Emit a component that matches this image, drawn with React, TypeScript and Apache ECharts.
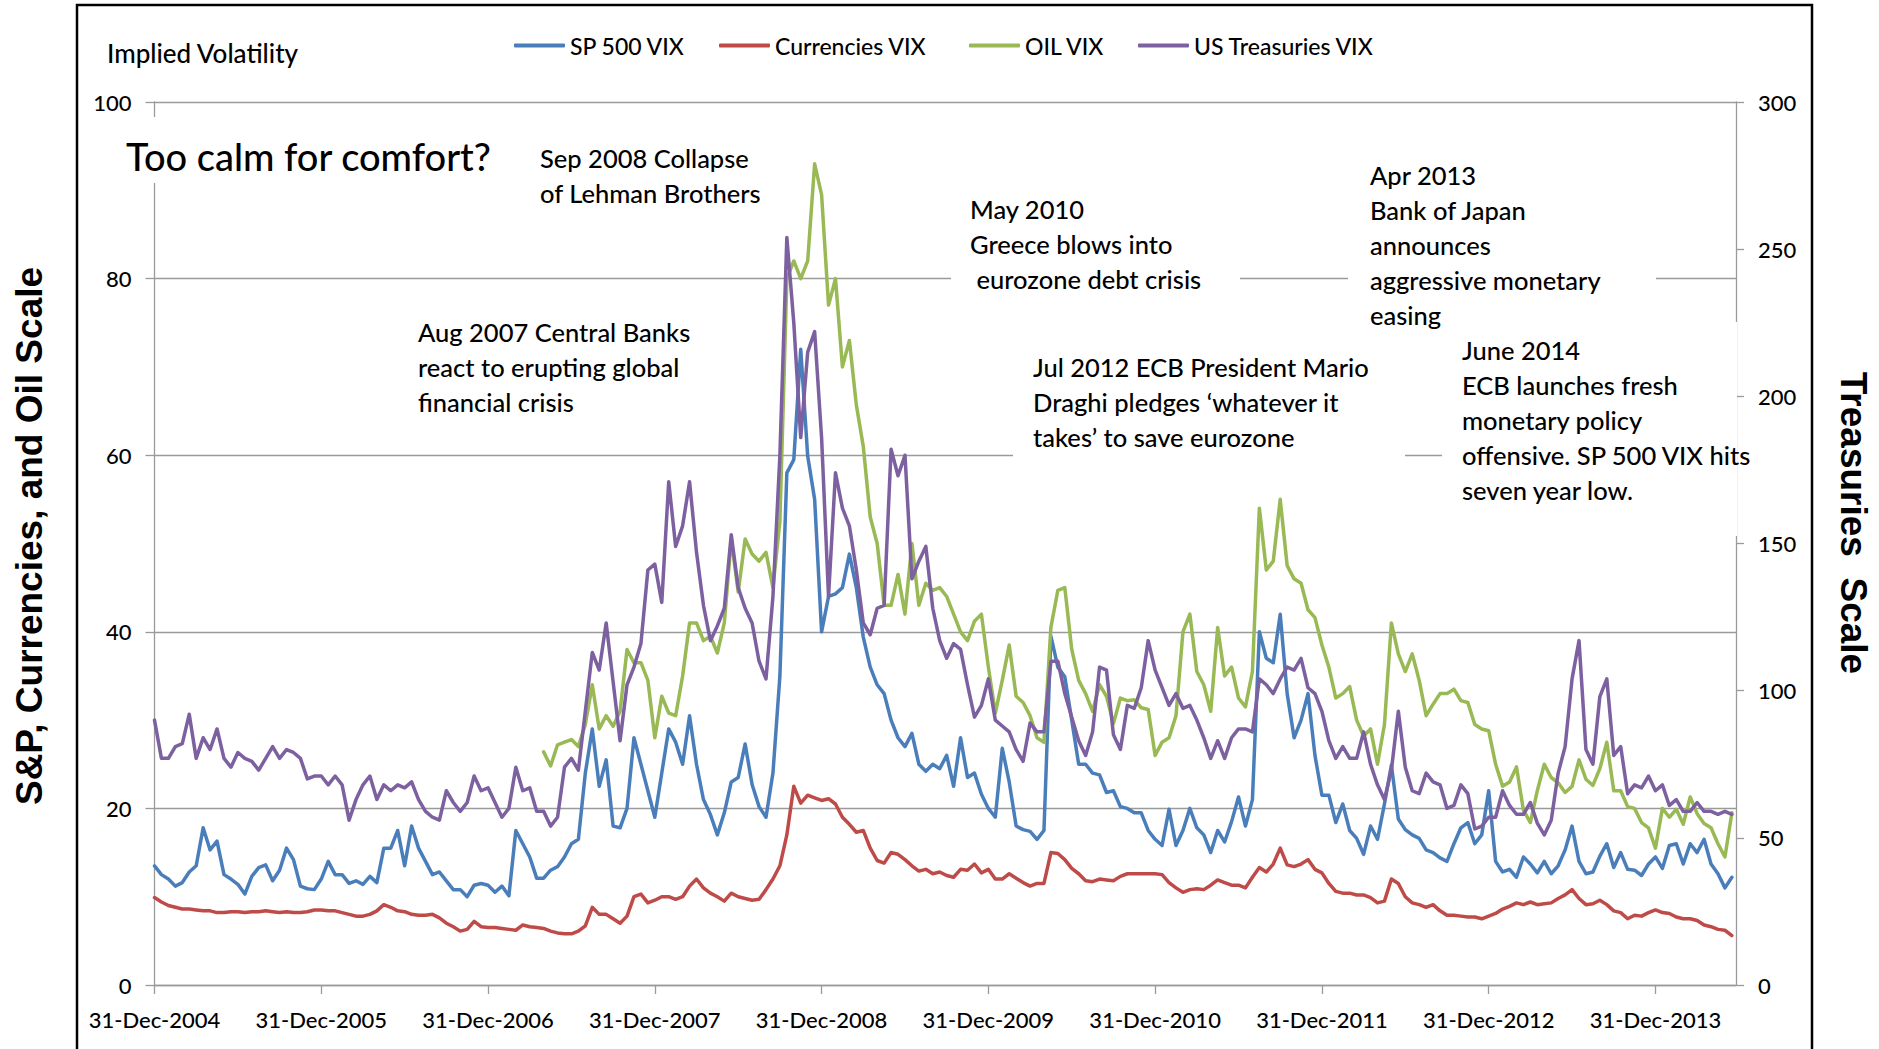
import React, { useEffect, useRef } from "react";
import * as echarts from "echarts";

// x position of sample i = 2005 + i / 24  (31-Dec-2004 == 2005.0, half-month steps)
const FIRST_YEAR = 2005;
const STEPS_PER_YEAR = 24;
const X_MAX = 2014.483;

const xTickYears = [2005, 2006, 2007, 2008, 2009, 2010, 2011, 2012, 2013, 2014];
const xTickLabels = [
  "31-Dec-2004", "31-Dec-2005", "31-Dec-2006", "31-Dec-2007", "31-Dec-2008",
  "31-Dec-2009", "31-Dec-2010", "31-Dec-2011", "31-Dec-2012", "31-Dec-2013",
];

const sp500Vix = [
  13.5, 12.5, 12.0, 11.2, 11.6, 12.8, 13.5, 17.8, 15.3, 16.3,
  12.5, 12.0, 11.4, 10.3, 12.3, 13.3, 13.6, 11.8, 13.0, 15.5,
  14.2, 11.2, 10.9, 10.8, 12.0, 14.0, 12.5, 12.5, 11.5, 11.8,
  11.4, 12.3, 11.6, 15.5, 15.5, 17.5, 13.5, 18.0, 15.5, 14.0,
  12.5, 12.8, 11.8, 10.8, 10.8, 10.0, 11.3, 11.5, 11.3, 10.5,
  11.2, 10.1, 17.5, 16.0, 14.5, 12.1, 12.1, 13.0, 13.4, 14.5,
  16.0, 16.5, 24.0, 29.0, 22.5, 25.5, 18.0, 17.8, 20.0, 28.0,
  25.0, 22.0, 19.0, 24.0, 29.0, 27.5, 25.0, 30.5, 25.0, 21.0,
  19.3, 17.0, 19.5, 23.0, 23.5, 27.3, 22.7, 20.2, 19.0, 24.0,
  35.0, 58.0, 59.5, 72.0, 59.9, 55.0, 40.0, 44.0, 44.3, 45.0,
  48.8, 45.0, 39.4, 36.0, 34.0, 33.0, 30.0, 28.0,
  27.0, 28.5, 25.0, 24.2, 25.0, 24.5, 26.0, 22.5, 28.0, 23.5,
  24.0, 21.6, 20.0, 19.0, 26.8, 23.0, 18.0, 17.6, 17.4, 16.5,
  17.5, 39.5, 36.0, 34.9, 30.0, 25.0, 25.0, 24.0, 23.8, 21.8,
  22.0, 20.2, 20.0, 19.5, 19.5, 17.5, 16.5, 15.8, 19.9, 15.8,
  17.5, 20.0, 17.8, 17.0, 15.0, 17.5,
  16.2, 18.5, 21.3, 18.0, 21.0, 40.0, 37.0, 36.5, 42.0, 33.0,
  28.0, 30.0, 33.0, 26.0, 21.5, 21.5, 18.4, 20.5, 17.5, 16.6,
  14.8, 18.0, 16.5, 20.5, 24.9, 18.8, 17.6, 17.0, 16.6, 15.3,
  15.0, 14.4, 14.0, 16.0, 17.8, 18.4, 16.0, 17.0, 22.0, 14.0,
  12.8, 13.1, 12.2, 14.5, 13.7, 12.7, 14.0, 12.6, 13.5, 15.3,
  18.0, 14.0, 12.6, 12.8, 14.6, 16.0, 13.3, 15.0, 13.1, 13.0,
  12.4, 13.7, 14.5, 13.2, 15.8, 16.0, 13.7, 16.0, 15.0, 16.5,
  13.7, 12.6, 11.0, 12.2,
];

const currenciesVix = [
  9.9, 9.4, 9.0, 8.8, 8.6, 8.6, 8.5, 8.4, 8.4, 8.2,
  8.2, 8.3, 8.3, 8.2, 8.3, 8.3, 8.4, 8.3, 8.2, 8.3,
  8.2, 8.2, 8.3, 8.5, 8.5, 8.4, 8.4, 8.2, 8.0, 7.8,
  7.8, 8.0, 8.4, 9.1, 8.8, 8.4, 8.3, 8.0, 7.9, 7.9,
  8.0, 7.6, 7.0, 6.6, 6.1, 6.3, 7.2, 6.6, 6.5, 6.5,
  6.4, 6.3, 6.2, 6.8, 6.6, 6.5, 6.4, 6.1, 5.9, 5.8,
  5.8, 6.1, 6.7, 8.8, 8.0, 8.0, 7.5, 7.0, 7.8, 10.0,
  10.3, 9.3, 9.6, 10.0, 10.0, 9.7, 10.0, 11.2, 12.0, 11.0,
  10.4, 10.0, 9.5, 10.4, 10.0, 9.8, 9.6, 9.7, 10.8, 12.0,
  13.5, 17.0, 22.5, 20.6, 21.5, 21.2, 20.9, 21.1, 20.5, 19.0,
  18.2, 17.3, 17.5, 15.5, 14.1, 13.8, 15.0, 14.8,
  14.2, 13.5, 12.9, 13.1, 12.6, 12.8, 12.4, 12.2, 13.1, 13.0,
  13.7, 12.7, 13.1, 12.0, 12.0, 12.6, 12.1, 11.6, 11.2, 11.5,
  11.5, 15.0, 14.9, 14.2, 13.2, 12.6, 11.8, 11.7, 12.0, 11.9,
  11.8, 12.3, 12.6, 12.6, 12.6, 12.6, 12.6, 12.5, 11.6, 11.0,
  10.5, 10.8, 10.9, 10.8, 11.3, 11.9,
  11.6, 11.3, 11.3, 11.0, 12.2, 13.3, 12.8, 13.7, 15.5, 13.6,
  13.4, 13.7, 14.2, 13.1, 12.7, 11.5, 10.6, 10.4, 10.4, 10.2,
  10.2, 9.9, 9.3, 9.5, 12.0, 11.5, 10.0, 9.3, 9.1, 8.8,
  9.1, 8.4, 7.9, 7.9, 7.8, 7.7, 7.7, 7.5, 7.8, 8.1,
  8.6, 8.9, 9.3, 9.1, 9.4, 9.1, 9.2, 9.3, 9.8, 10.2,
  10.8, 9.8, 9.1, 9.2, 9.6, 9.1, 8.4, 8.2, 7.5, 7.9,
  7.8, 8.2, 8.5, 8.2, 8.1, 7.7, 7.5, 7.5, 7.3, 6.8,
  6.6, 6.3, 6.2, 5.6,
];

// Oil VIX is only available from mid-2007 (first 56 half-months empty)
const oilVix = [
  null, null, null, null, null, null, null, null, null, null,
  null, null, null, null, null, null, null, null, null, null,
  null, null, null, null, null, null, null, null, null, null,
  null, null, null, null, null, null, null, null, null, null,
  null, null, null, null, null, null, null, null, null, null,
  null, null, null, null, null, null, 26.4, 24.8, 27.2, 27.5,
  27.8, 27.0, 29.5, 34.0, 29.0, 30.5, 29.3, 31.0, 38.0, 36.5,
  36.5, 34.5, 28.0, 32.7, 30.8, 30.5, 35.0, 41.0, 41.0, 39.0,
  39.5, 37.6, 41.0, 50.5, 44.5, 50.5, 48.8, 48.0, 49.0, 45.0,
  52.5, 80.0, 82.0, 80.0, 82.0, 93.0, 89.5, 77.0, 80.0, 70.0,
  73.0, 65.7, 61.0, 53.0, 50.0, 43.0, 43.0, 46.5,
  42.0, 50.0, 43.0, 45.5, 44.7, 45.0, 44.0, 42.0, 40.0, 39.0,
  41.2, 42.0, 36.0, 30.8, 34.5, 38.5, 32.7, 32.0, 30.5, 28.0,
  27.5, 40.5, 44.7, 45.0, 38.0, 34.5, 33.0, 31.0, 34.0, 32.7,
  29.6, 32.5, 32.2, 32.3, 31.4, 31.2, 26.0, 27.5, 28.0, 30.5,
  40.0, 42.0, 35.5, 34.0, 31.0, 40.5,
  35.0, 36.0, 32.5, 31.5, 35.5, 54.0, 47.0, 48.0, 55.0, 47.5,
  46.0, 45.5, 42.5, 41.6, 38.5, 36.0, 32.5, 33.0, 33.8, 30.0,
  28.2, 29.0, 25.0, 29.5, 41.0, 37.5, 35.5, 37.5, 34.5, 30.5,
  31.8, 33.0, 33.0, 33.5, 32.2, 32.0, 29.5, 29.0, 28.8, 25.0,
  22.5, 23.0, 24.7, 19.8, 18.4, 22.0, 25.0, 23.5, 22.9, 21.8,
  22.5, 25.5, 23.3, 22.6, 24.5, 27.5, 22.0, 22.0, 20.2, 20.0,
  18.4, 17.8, 15.5, 20.0, 19.0, 19.9, 18.2, 21.3, 19.4, 18.3,
  17.8, 16.0, 14.5, 19.5,
];

// US Treasuries VIX, on the right-hand (0-300) scale
const treasuriesVix = [
  90, 77, 77, 81, 82, 92, 77, 84, 80, 87,
  77, 74, 79, 77, 76, 73, 77, 81, 77, 80,
  79, 77, 70, 71, 71, 68, 71, 68, 56, 63,
  68, 71, 63, 68, 66, 68, 67, 69, 63, 59,
  57, 56, 66, 62, 59, 62, 71, 66, 67, 62,
  57, 60, 74, 66, 67, 59, 59, 54, 57, 74,
  77, 73, 93, 113, 107, 123, 103, 83, 102, 108,
  116, 141, 143, 130, 171, 149, 156, 171, 147, 129,
  117, 122, 128, 153, 135, 128, 123, 110, 104, 132,
  180, 254, 225, 186, 215, 222, 186, 132, 174, 162,
  156, 141, 123, 119, 128, 129, 182, 173,
  180, 138, 144, 149, 128, 117, 111, 116, 114, 102,
  91, 95, 104, 90, 88, 86, 80, 76, 89, 86,
  86, 110, 110, 99, 91, 83, 78, 86, 108, 107,
  85, 80, 95, 94, 101, 117, 107, 101, 95, 99,
  94, 95, 90, 84, 77, 83,
  77, 84, 87, 87, 86, 104, 102, 99, 104, 108,
  107, 111, 101, 99, 93, 83, 77, 81, 77, 77,
  86, 75, 68, 63, 73, 93, 74, 66, 65, 72,
  69, 68, 60, 61, 68, 65, 53, 54, 57, 57,
  66, 61, 58, 58, 62, 55, 51, 56, 72, 81,
  104, 117, 80, 75, 98, 104, 78, 81, 65, 68,
  67, 71, 66, 68, 61, 63, 59, 59, 62, 59,
  59, 58, 59, 58,
];

const seriesNames = ["SP 500 VIX", "Currencies VIX", "OIL VIX", "US Treasuries VIX"];
const seriesColors = ["#4A7EBB", "#BE4B48", "#98B954", "#7D60A0"];

const annotations = [
  { lines: ["Too calm for comfort?"], x: 126, y: 135, size: 38, lh: 42 },
  { lines: ["Sep 2008 Collapse", "of Lehman Brothers"], x: 540, y: 140, size: 25.5, lh: 35 },
  { lines: ["Aug 2007 Central Banks", "react to erupting global", "financial crisis"], x: 418, y: 314, size: 25.5, lh: 35 },
  { lines: ["May 2010", "Greece blows into", " eurozone debt crisis"], x: 970, y: 191, size: 25.5, lh: 35 },
  { lines: ["Apr 2013", "Bank of Japan", "announces", "aggressive monetary", "easing"], x: 1370, y: 157, size: 25.5, lh: 35 },
  { lines: ["Jul 2012 ECB President Mario", "Draghi pledges \u2018whatever it", "takes\u2019 to save eurozone"], x: 1033, y: 349, size: 25.5, lh: 35 },
  { lines: ["June 2014", "ECB launches fresh", "monetary policy", "offensive. SP 500 VIX hits", "seven year low."], x: 1462, y: 332, size: 25.5, lh: 35 },
];

// white boxes behind the text boxes that hide grid / axis lines
const maskBoxes = [
  { x: 100, y: 117, w: 400, h: 66 },
  { x: 951, y: 190, w: 289, h: 105 },
  { x: 1348, y: 150, w: 308, h: 185 },
  { x: 1013, y: 345, w: 392, h: 115 },
  { x: 1442, y: 322, w: 295, h: 214 },
];

const FONT = "Lato, 'Liberation Sans', sans-serif";
const WEIGHT = 500;
const AXIS_GRAY = "#9A9A9A";

function toPairs(values: (number | null)[]) {
  const out: [number, number][] = [];
  values.forEach((v, i) => {
    if (v !== null && v !== undefined) out.push([FIRST_YEAR + i / STEPS_PER_YEAR, v]);
  });
  return out;
}

export default function App() {
  const ref = useRef<HTMLDivElement>(null);

  useEffect(() => {
    if (!ref.current) return;
    const chart = echarts.init(ref.current, null, { renderer: "svg" });

    const dataSets = [sp500Vix, currenciesVix, oilVix, treasuriesVix];
    const legendLeft = [514, 719, 969, 1138];

    const graphic: any[] = [];
    graphic.push({
      type: "rect",
      z: 0,
      shape: { x: 77, y: 5, width: 1735, height: 1100 },
      style: { fill: "none", stroke: "#000", lineWidth: 2.5 },
      silent: true,
    });
    maskBoxes.forEach((b) => {
      graphic.push({
        type: "rect",
        z: 1,
        shape: { x: b.x, y: b.y, width: b.w, height: b.h },
        style: { fill: "#fff" },
        silent: true,
      });
    });
    annotations.forEach((a) => {
      graphic.push({
        type: "text",
        z: 5,
        x: a.x,
        y: a.y,
        style: {
          text: a.lines.join("\n"),
          fill: "#000",
          font: `${WEIGHT} ${a.size}px ${FONT}`,
          lineHeight: a.lh,
          verticalAlign: "top",
          align: "left",
        },
        silent: true,
      });
    });
    graphic.push({
      type: "text",
      z: 5,
      x: 107,
      y: 53,
      style: {
        text: "Implied Volatility",
        fill: "#000",
        font: `${WEIGHT} 26px ${FONT}`,
        verticalAlign: "middle",
        align: "left",
      },
    });
    graphic.push({
      type: "text",
      z: 5,
      x: 29,
      y: 536,
      rotation: Math.PI / 2,
      style: {
        text: "S&P, Currencies, and Oil Scale",
        fill: "#000",
        font: "bold 37px 'Liberation Sans', Arial, sans-serif",
        align: "center",
        verticalAlign: "middle",
      },
    });
    graphic.push({
      type: "text",
      z: 5,
      x: 1853,
      y: 523,
      rotation: -Math.PI / 2,
      style: {
        text: "Treasuries  Scale",
        fill: "#000",
        font: "bold 37px 'Liberation Sans', Arial, sans-serif",
        align: "center",
        verticalAlign: "middle",
      },
    });

    const labelStyle = { fontFamily: FONT, fontWeight: WEIGHT, fontSize: 22, color: "#000" };

    chart.setOption({
      animation: false,
      backgroundColor: "#fff",
      grid: { left: 154.5, right: 143, top: 102, bottom: 64, containLabel: false },
      legend: seriesNames.map((n, i) => ({
        data: [n],
        left: legendLeft[i],
        top: 34,
        padding: 0,
        icon: "roundRect",
        itemWidth: 51,
        itemHeight: 4,
        itemGap: 0,
        selectedMode: false,
        textStyle: { fontFamily: FONT, fontWeight: WEIGHT, fontSize: 23, color: "#000", padding: [0, 0, 0, 0] },
      })),
      xAxis: {
        type: "value",
        min: FIRST_YEAR,
        max: X_MAX,
        interval: 1,
        axisLine: { show: true, lineStyle: { color: AXIS_GRAY, width: 1.3 } },
        axisTick: {
          show: true,
          length: 9,
          lineStyle: { color: AXIS_GRAY, width: 1.3 },
          customValues: xTickYears,
        },
        axisLabel: {
          ...labelStyle,
          customValues: xTickYears,
          formatter: (v: number) => xTickLabels[Math.round(v) - FIRST_YEAR] ?? "",
          margin: 23,
        },
        splitLine: { show: false },
      },
      yAxis: [
        {
          type: "value",
          min: 0,
          max: 100,
          interval: 20,
          position: "left",
          axisLine: { show: true, lineStyle: { color: AXIS_GRAY, width: 1.3 } },
          axisTick: { show: true, length: 9, lineStyle: { color: AXIS_GRAY, width: 1.3 } },
          axisLabel: { ...labelStyle, margin: 23 },
          splitLine: { show: true, lineStyle: { color: AXIS_GRAY, width: 1.3 } },
        },
        {
          type: "value",
          min: 0,
          max: 300,
          interval: 50,
          position: "right",
          axisLine: { show: true, lineStyle: { color: AXIS_GRAY, width: 1.3 } },
          axisTick: { show: true, length: 8, lineStyle: { color: AXIS_GRAY, width: 1.3 } },
          axisLabel: { ...labelStyle, margin: 22 },
          splitLine: { show: false },
        },
      ],
      series: dataSets.map((d, i) => ({
        name: seriesNames[i],
        type: "line",
        yAxisIndex: i === 3 ? 1 : 0,
        data: toPairs(d as (number | null)[]),
        showSymbol: false,
        symbol: "none",
        z: 2 + i,
        lineStyle: { color: seriesColors[i], width: 3.5, cap: "round", join: "round" },
        itemStyle: { color: seriesColors[i] },
        emphasis: { disabled: true },
      })),
      graphic,
    });

    return () => chart.dispose();
  }, []);

  return (
    <div
      ref={ref}
      style={{ position: "fixed", left: 0, top: 0, width: 1879, height: 1049, background: "#fff" }}
    />
  );
}
